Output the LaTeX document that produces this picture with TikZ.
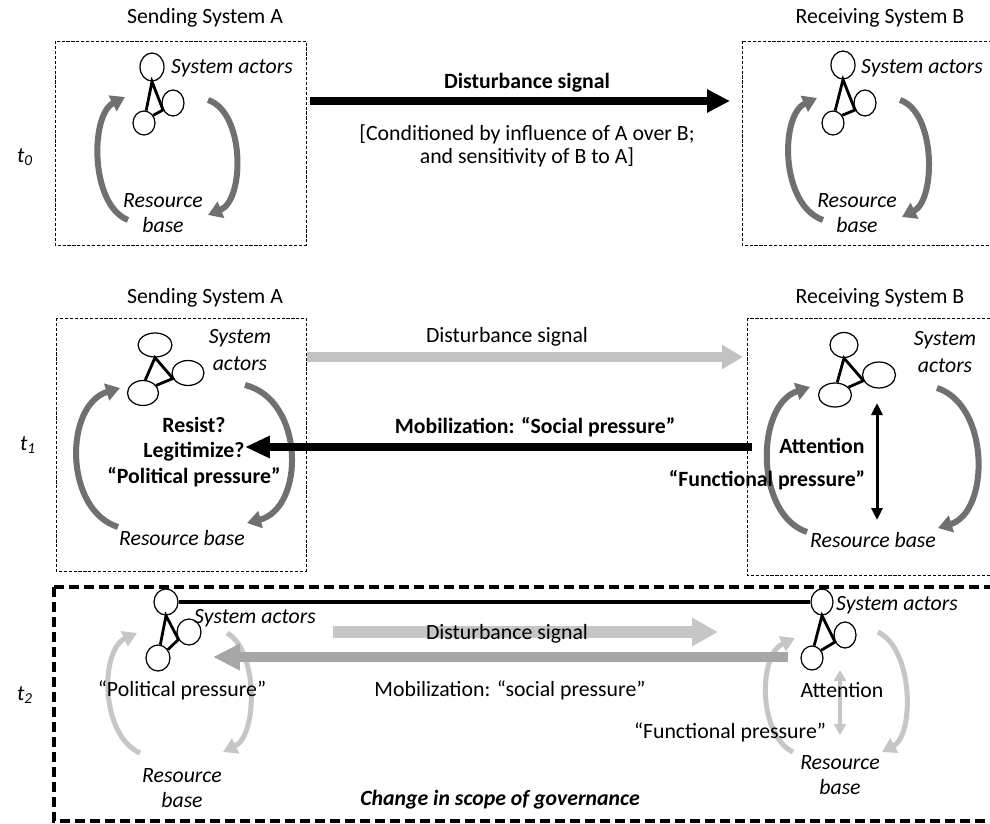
\documentclass[tikz,border=0pt]{standalone}
\usepackage{fontspec}
\setmainfont{Carlito}
\usetikzlibrary{arrows.meta,shapes.geometric}
\definecolor{loopdark}{RGB}{112,112,112}
\definecolor{looplight}{RGB}{198,198,198}
\definecolor{sigpale}{RGB}{194,194,194}
\definecolor{mobgray}{RGB}{166,166,166}
\tikzset{
  frame/.style={line width=0.5pt,dash pattern=on 1.8pt off 1pt},
  scopeframe/.style={line width=1.8pt,dash pattern=on 0.2cm off 0.1cm},
  actor/.style={draw,ellipse,fill=white,line width=0.7pt,inner sep=0pt},
  tie/.style={line width=1.6pt},
  txt/.style={font=\fontsize{12.4}{14.6}\selectfont,align=center,inner sep=0pt},
  loopA/.style={line width=0.12cm,draw=loopdark,-{Triangle[length=0.28cm,width=0.34cm]}},
  loopB/.style={line width=0.1cm,draw=looplight,-{Triangle[length=0.28cm,width=0.32cm]}},
  bigarrow/.style={line width=0.16cm,-{Triangle[length=0.46cm,width=0.44cm]}}
}
\begin{document}
\begin{tikzpicture}[x=0.02cm,y=-0.02cm]
\useasboundingbox (0,0) rectangle (990,824);
\fill[white] (0,0) rectangle (990,824);
\clip (0,0) rectangle (990,824);
%%%%%%%%%%%%%%%%%%%% t0 %%%%%%%%%%%%%%%%%%%%
\node[txt] (sendA0) at (205,18) {Sending  System A};
\node[txt] (recvB0) at (880,18) {Receiving System B};
\draw[frame] (55,41) rectangle (306,245);
\draw[frame] (742,41) rectangle (1000,245);
\node[txt] (t0) at (25,157) {\itshape t\textsubscript{0}};
% loops
\draw[loopA] (128,220) .. controls (90,205) and (90,115) .. (125,97);
\draw[loopA] (208,100) .. controls (245,112) and (245,200) .. (208,215);
\draw[loopA] (823,220) .. controls (780,205) and (780,115) .. (817,98);
\draw[loopA] (900,100) .. controls (936,112) and (936,200) .. (902,217);
% actors A
\node[actor,minimum width=0.48cm,minimum height=0.56cm] (a0t) at (152,67) {};
\node[actor,minimum width=0.44cm,minimum height=0.52cm] (a0r) at (173,103) {};
\node[actor,minimum width=0.44cm,minimum height=0.48cm] (a0b) at (144,123) {};
\draw[tie] (a0b.80) -- (a0t.south) -- (a0r.215) -- (a0b.40);
% actors B
\node[actor,minimum width=0.48cm,minimum height=0.56cm] (b0t) at (843,65) {};
\node[actor,minimum width=0.44cm,minimum height=0.52cm] (b0r) at (865,103) {};
\node[actor,minimum width=0.44cm,minimum height=0.48cm] (b0b) at (833,123) {};
\draw[tie] (b0b.80) -- (b0t.south) -- (b0r.215) -- (b0b.40);
\node[txt] (actA0) at (232,68) {\itshape System  actors};
\node[txt] (actB0) at (922,68) {\itshape System  actors};
\node[txt] (resA0) at (163,213) {\itshape Resource\\\itshape base};
\node[txt] (resB0) at (857,213) {\itshape Resource\\\itshape base};
% signal
\coordinate (d0s) at (310,101);
\coordinate (d0e) at (730,101);
\draw[bigarrow] (d0s) -- (d0e);
\node[txt] (dis0) at (527,83) {\bfseries Disturbance  signal};
\node[txt,font=\fontsize{12.4}{13}\selectfont] (cond0) at (527,146) {[Conditioned  by influence  of A over B;\\and sensitivity of B to A]};
%%%%%%%%%%%%%%%%%%%% t1 %%%%%%%%%%%%%%%%%%%%
\node[txt] (sendA1) at (205,298) {Sending  System A};
\node[txt] (recvB1) at (880,298) {Receiving System B};
\draw[frame] (56,318) rectangle (306,571);
\draw[frame] (747,318) rectangle (1000,575);
\node[txt] (t1) at (28,445) {\itshape t\textsubscript{1}};
% loops
\draw[loopA] (118,527) .. controls (64,510) and (64,405) .. (120,388);
\draw[loopA] (245,385) .. controls (305,400) and (305,508) .. (247,523);
\draw[loopA] (807,532) .. controls (755,515) and (755,405) .. (810,387);
\draw[loopA] (937,388) .. controls (990,405) and (990,512) .. (938,528);
% actors A
\node[actor,minimum width=0.68cm,minimum height=0.48cm] (a1t) at (155,345) {};
\node[actor,minimum width=0.64cm,minimum height=0.5cm] (a1r) at (188,373) {};
\node[actor,minimum width=0.62cm,minimum height=0.5cm] (a1b) at (143,393) {};
\draw[tie] (a1b.80) -- (a1t.south) -- (a1r.200) -- (a1b.30);
% actors B
\node[actor,minimum width=0.56cm,minimum height=0.5cm] (b1t) at (844,345) {};
\node[actor,minimum width=0.66cm,minimum height=0.52cm] (b1r) at (879,375) {};
\node[actor,minimum width=0.66cm,minimum height=0.48cm] (b1b) at (835,395) {};
\draw[tie] (b1b.80) -- (b1t.south) -- (b1r.200) -- (b1b.30);
\node[txt,font=\fontsize{12.4}{15.5}\selectfont] (actA1) at (240,350) {\itshape System\\\itshape actors};
\node[txt,font=\fontsize{12.4}{15.5}\selectfont] (actB1) at (945,352) {\itshape System\\\itshape actors};
\node[txt] (resA1) at (182,538) {\itshape Resource base};
\node[txt] (resB1) at (873,540) {\itshape Resource base};
% signals
\coordinate (d1s) at (307,357);
\coordinate (d1e) at (743,357);
\draw[line width=0.19cm,draw=sigpale,-{Triangle[length=0.42cm,width=0.46cm]}] (d1s) -- (d1e);
\node[txt] (dis1) at (507,337) {Disturbance  signal};
\coordinate (m1s) at (752,447);
\coordinate (m1e) at (245,447);
\draw[line width=0.16cm,-{Triangle[length=0.5cm,width=0.42cm]}] (m1s) -- (m1e);
\node[txt] (mob1) at (535,427) {\bfseries Mobilization: “Social pressure”};
\node[txt] (why1) at (194,452) {\bfseries Resist?\\\bfseries Legitimize?\\\bfseries “Political  pressure”};
\coordinate (f1t) at (877,403);
\coordinate (f1b) at (877,520);
\draw[line width=0.06cm,{Triangle[length=0.24cm,width=0.22cm]}-{Triangle[length=0.24cm,width=0.22cm]}] (f1t) -- (f1b);
\node[txt] (att1) at (822,446) {\bfseries Attention};
\node[txt] (fun1) at (767,480) {\bfseries “Functional pressure”};
%%%%%%%%%%%%%%%%%%%% t2 %%%%%%%%%%%%%%%%%%%%
\draw[scopeframe] (54,587) rectangle (1010,821);
\node[txt] (t2) at (25,695) {\itshape t\textsubscript{2}};
% loops
\draw[loopB] (140,753) .. controls (100,735) and (100,650) .. (137,633);
\draw[loopB] (227,633) .. controls (258,650) and (258,735) .. (223,752);
\draw[loopB] (793,752) .. controls (758,735) and (758,655) .. (795,638);
\draw[loopB] (878,632) .. controls (914,650) and (914,735) .. (882,752);
% signals
\coordinate (d2s) at (333,632);
\coordinate (d2e) at (718,632);
\draw[line width=0.23cm,draw=looplight,-{Triangle[length=0.52cm,width=0.54cm]}] (d2s) -- (d2e);
\coordinate (m2s) at (788,657);
\coordinate (m2e) at (213,657);
\draw[line width=0.19cm,draw=mobgray,-{Triangle[length=0.54cm,width=0.5cm]}] (m2s) -- (m2e);
% actors A
\node[actor,minimum width=0.48cm,minimum height=0.52cm] (a2t) at (166,602) {};
\node[actor,minimum width=0.48cm,minimum height=0.52cm] (a2r) at (189,632) {};
\node[actor,minimum width=0.48cm,minimum height=0.52cm] (a2b) at (158,658) {};
\draw[tie] (a2b.80) -- (a2t.south) -- (a2r.215) -- (a2b.40);
% actors B
\node[actor,minimum width=0.44cm,minimum height=0.52cm] (b2t) at (822,602) {};
\node[actor,minimum width=0.44cm,minimum height=0.52cm] (b2r) at (845,635) {};
\node[actor,minimum width=0.44cm,minimum height=0.48cm] (b2b) at (812,658) {};
\draw[tie] (b2b.80) -- (b2t.south) -- (b2r.215) -- (b2b.40);
\draw[line width=0.07cm] (a2t) -- (b2t);
\node[txt] (actA2) at (255,618) {\itshape System  actors};
\node[txt] (actB2) at (897,605) {\itshape System  actors};
\node[txt] (resA2) at (182,788) {\itshape Resource\\\itshape base};
\node[txt] (resB2) at (840,775) {\itshape Resource\\\itshape base};
\node[txt] (dis2) at (507,634) {Disturbance  signal};
\node[txt] (mob2) at (510,690) {Mobilization: “social pressure”};
\node[txt] (pol2) at (182,690) {“Political pressure”};
\coordinate (f2t) at (840,670);
\coordinate (f2b) at (840,735);
\draw[line width=0.08cm,draw=looplight,{Triangle[length=0.22cm,width=0.24cm]}-{Triangle[length=0.22cm,width=0.24cm]}] (f2t) -- (f2b);
\node[txt] (att2) at (842,690) {Attention};
\node[txt] (fun2) at (730,732) {“Functional pressure”};
\node[txt] (scope2) at (500,800) {\bfseries\itshape Change in scope of governance};
\end{tikzpicture}
\end{document}
